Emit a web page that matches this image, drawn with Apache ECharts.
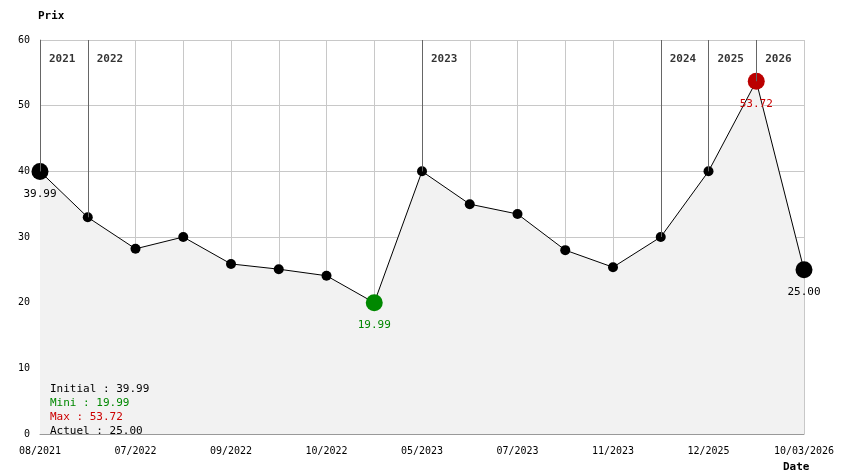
<!DOCTYPE html>
<html>
<head>
    <script src="https://cdn.jsdelivr.net/npm/echarts/dist/echarts.min.js"></script>
</head>
<body style="margin:0">
    <div id="main" style="width: 844px;height:474px;"></div>
    <script type="text/javascript">
        var prices = [39.99, 33.0, 28.2, 30.0, 25.9, 25.1, 24.1, 19.99, 40.0, 35.0, 33.5, 28.0, 25.4, 30.0, 40.0, 53.72, 25.00];
        var dateLabels = ['08/2021', '', '07/2022', '', '09/2022', '', '10/2022', '', '05/2023', '', '07/2023', '', '11/2023', '', '12/2025', '', '10/03/2026'];
        var yearIdx = [0, 1, 8, 13, 14, 15];
        var yearNames = ['2021', '2022', '2023', '2024', '2025', '2026'];
        var legendText = '{k|Initial : 39.99}\n{g|Mini : 19.99}\n{r|Max : 53.72}\n{k|Actuel : 25.00}';

        var font = 'DejaVu Sans Mono';
        var myChart = echarts.init(document.getElementById('main'));
        var last = prices.length - 1;
        var minI = prices.indexOf(Math.min.apply(null, prices));
        var maxI = prices.indexOf(Math.max.apply(null, prices));

        var points = prices.map(function (v, i) {
            var p = { value: [i, v] };
            var big = (i === 0 || i === last || i === minI || i === maxI);
            if (big) {
                p.symbolSize = 17;
                var c = i === minI ? '#008800' : (i === maxI ? '#bb0000' : '#000');
                p.itemStyle = { color: c };
                p.label = {
                    show: true, position: 'bottom', distance: 4,
                    formatter: v.toFixed(2), color: i === maxI ? '#cc0000' : c,
                    fontFamily: font, fontSize: 11
                };
            }
            return p;
        });

        var option = {
            animation: false,
            grid: { left: 40, right: 40, top: 40, bottom: 40 },
            xAxis: {
                type: 'value', min: 0, max: last, interval: 1,
                axisLine: { lineStyle: { color: '#999' } },
                axisTick: { show: false },
                axisLabel: {
                    formatter: function (v) { return dateLabels[v] || ''; },
                    color: '#000', fontFamily: font, fontSize: 10, margin: 8
                },
                splitLine: { lineStyle: { color: '#c8c8c8' } }
            },
            yAxis: {
                type: 'value', min: 0, max: 60, interval: 10,
                axisLine: { show: true, lineStyle: { color: '#999' } },
                axisTick: { show: false },
                axisLabel: { color: '#000', fontFamily: font, fontSize: 10, margin: 10 },
                splitLine: { lineStyle: { color: '#c8c8c8' } }
            },
            series: [{
                type: 'line',
                data: points,
                symbol: 'circle',
                symbolSize: 10,
                itemStyle: { color: '#000' },
                lineStyle: { color: '#000', width: 1 },
                areaStyle: { color: '#f2f2f2', opacity: 1 },
                z: 3,
                markLine: {
                    silent: true, symbol: 'none',
                    lineStyle: { color: '#666', type: 'solid', width: 1 },
                    label: { show: false },
                    data: yearIdx.map(function (x) {
                        return [{ coord: [x, 60] }, { coord: [x, prices[x]] }];
                    })
                }
            }, {
                type: 'scatter',
                symbolSize: 0,
                silent: true,
                z: 4,
                data: yearIdx.map(function (x, k) { return { value: [x, 60], name: yearNames[k] }; }),
                label: {
                    show: true, position: 'insideTopLeft', offset: [4, 4],
                    formatter: function (p) { return p.name; },
                    color: '#000', fontFamily: font, fontSize: 11, fontWeight: 'bold'
                }
            }],
            graphic: [
                { type: 'text', left: 38, top: 6, z: 100, style: { text: 'Prix', font: 'bold 11px ' + font, fill: '#000' } },
                { type: 'text', left: 783, top: 457, z: 100, style: { text: 'Date', font: 'bold 11px ' + font, fill: '#000' } },
                {
                    type: 'text', left: 50, top: 379, z: 100,
                    style: {
                        text: legendText, font: '11px ' + font, lineHeight: 14,
                        rich: {
                            k: { fill: '#000', fontFamily: font, fontSize: 11, lineHeight: 14 },
                            g: { fill: '#008800', fontFamily: font, fontSize: 11, lineHeight: 14 },
                            r: { fill: '#cc0000', fontFamily: font, fontSize: 11, lineHeight: 14 }
                        }
                    }
                }
            ]
        };

        myChart.setOption(option);
    </script>
</body>
</html>
